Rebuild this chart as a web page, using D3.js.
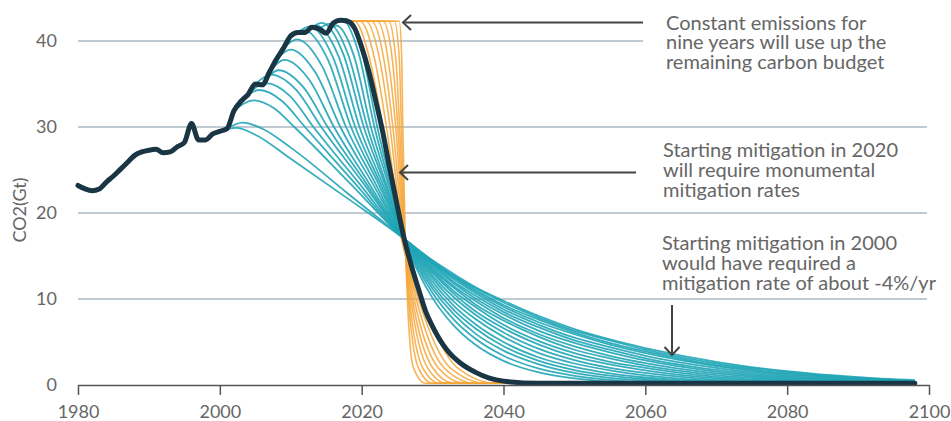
<!DOCTYPE html>
<html>
<head>
<meta charset="utf-8">
<script src="https://cdn.jsdelivr.net/npm/d3@7"></script>
<style>
  body { margin: 0; background: #fff; }
  svg { display: block; }
  text { font-family: Lato, "Open Sans", sans-serif; }
</style>
</head>
<body>
<svg id="chart" width="951" height="421"></svg>
<script>
// historical emissions, Gt CO2
var histYears = [1980,1981,1982,1983,1984,1985,1986,1987,1988,1989,1990,1991,1992,1993,1994,1995,1996,1997,1998,1999,
                 2000,2001,2002,2003,2004,2005,2006,2007,2008,2009,2010,2011,2012,2013,2014,2015,2016,2017,2018];
var histCO2 = [23.2,22.8,22.6,22.8,23.6,24.3,25.1,25.9,26.7,27.1,27.3,27.4,27.0,27.1,27.7,28.2,30.4,28.5,28.5,29.2,
               29.5,29.8,31.9,33.0,33.8,35.0,34.9,36.4,37.9,39.2,40.6,41.0,41.0,41.6,41.4,40.9,42.1,42.4,42.3];

// mitigation starting now (thick line continues)
var nowYears = [2019,2020,2021,2022,2023,2024,2025,2026,2027,2028,2029,2030,2032,2034,2036,2038,2040,2045,2050,2098];
var nowCO2 = [41.5,39.3,36.5,33.0,29.3,25.0,20.9,17.0,13.9,11.2,8.6,6.8,4.1,2.5,1.5,0.8,0.45,0.2,0.2,0.2];

// mitigation curves that would have started in earlier years
var tealStarts = [2000,2001,2002,2003,2004,2005,2006,2007,2008,2009,2010,2011,2012,2013,2014,2015,2016,2017];
var tealPre = [
  [[2000,29.5],[2002.3,29.9],[2005,29.1],[2010,26.3],[2018,21.7]],
  [[2001,29.8],[2003.2,30.5],[2006,29.8],[2010,27.6],[2018,22.3]],
  [[2002,31.9],[2004.8,33.1],[2007.6,32.2],[2010.5,30.0],[2018.3,23.5]],
  [[2003,33.0],[2005.6,34.3],[2008.8,33.0],[2012,30.0],[2019,23.5]],
  [[2004,33.8],[2006.5,35.1],[2009.9,33.6],[2013.2,30.0],[2019.6,23.5]],
  [[2005,35.0],[2007.2,36.1],[2010.8,34.3],[2014.3,30.0],[2020.2,23.5]],
  [[2006,34.9],[2008.3,36.6],[2011.8,34.6],[2015.2,30.0],[2020.6,23.5]],
  [[2007,36.4],[2009.1,37.8],[2012.6,35.5],[2016.1,30.0],[2021,23.5]],
  [[2008,37.9],[2010,39.0],[2013.5,36.3],[2017,30.0],[2021.5,23.5]],
  [[2009,39.2],[2010.9,40.2],[2014.4,37.1],[2017.8,30.0],[2021.9,23.5]],
  [[2010,40.6],[2011.8,41.3],[2015.2,37.9],[2018.5,30.0],[2022.3,23.5]],
  [[2011,41.0],[2012.7,41.7],[2015.9,38.2],[2019.1,30.0],[2022.6,23.5]],
  [[2012,41.0],[2013.6,41.8],[2016.7,38.3],[2019.7,30.0],[2022.9,23.5]],
  [[2013,41.6],[2014.4,42.1],[2017.4,38.5],[2020.3,30.0],[2023.2,23.5]],
  [[2014,41.4],[2015.4,42.0],[2018.1,38.4],[2020.8,30.0],[2023.4,23.5]],
  [[2015,40.9],[2016.4,41.8],[2018.9,38.3],[2021.3,30.0],[2023.7,23.5]],
  [[2016,42.1],[2017.1,42.6],[2019.5,38.8],[2021.8,30.0],[2023.9,23.5]],
  [[2017,42.4],[2017.7,42.6],[2020,38.8],[2022.2,30.0],[2024.1,23.5]]
];
var tailYears = [2026,2028,2030,2033,2036,2040,2045,2050,2055,2060,2070,2080,2090,2098];
var tealTail = [
  [17.0,15.7,14.5,12.9,11.4,9.8,8.0,6.5,5.3,4.3,2.7,1.6,0.9,0.55],
  [17.0,15.7,14.4,12.7,11.3,9.6,7.8,6.3,5.2,4.1,2.5,1.5,0.82,0.5],
  [17.0,15.6,14.3,12.6,11.1,9.3,7.6,6.1,4.9,3.9,2.3,1.35,0.74,0.44],
  [17.0,15.6,14.2,12.5,10.9,9.1,7.3,5.9,4.7,3.7,2.2,1.24,0.66,0.39],
  [17.0,15.5,14.1,12.3,10.7,8.8,7.0,5.5,4.4,3.4,2.0,1.1,0.58,0.33],
  [17.0,15.4,14.0,12.0,10.4,8.5,6.7,5.2,4.1,3.1,1.75,0.95,0.49,0.28],
  [17.0,15.3,13.8,11.8,10.1,8.2,6.3,4.9,3.8,2.85,1.55,0.82,0.41,0.22],
  [17.0,15.2,13.6,11.5,9.8,7.8,5.9,4.5,3.4,2.55,1.35,0.69,0.33,0.2],
  [17.0,15.1,13.4,11.3,9.4,7.5,5.6,4.1,3.1,2.25,1.15,0.57,0.26,0.2],
  [17.0,15.0,13.2,10.9,9.1,7.0,5.1,3.7,2.7,2.0,0.95,0.45,0.2,0.2],
  [17.0,14.8,13.0,10.6,8.6,6.6,4.7,3.3,2.4,1.7,0.77,0.35,0.2,0.2],
  [17.0,14.7,12.7,10.2,8.2,6.1,4.2,2.9,2.0,1.4,0.6,0.26,0.2,0.2],
  [17.0,14.5,12.4,9.7,7.7,5.6,3.7,2.5,1.7,1.13,0.46,0.2,0.2,0.2],
  [17.0,14.3,12.0,9.2,7.1,5.0,3.2,2.1,1.35,0.87,0.33,0.2,0.2,0.2],
  [17.0,14.1,11.6,8.7,6.6,4.5,2.8,1.74,1.08,0.67,0.24,0.2,0.2,0.2],
  [17.0,13.8,11.2,8.2,6.0,4.0,2.4,1.4,0.83,0.5,0.2,0.2,0.2,0.2],
  [17.0,13.5,10.7,7.6,5.4,3.4,1.9,1.07,0.6,0.34,0.2,0.2,0.2,0.2],
  [17.0,13.1,10.1,6.9,4.7,2.8,1.46,0.77,0.4,0.21,0.2,0.2,0.2,0.2]
];

// constant emissions for a few years, then mitigation
var orangeCO2 = [42.3,42.3,38,30,17,10,2,0.2,0.2];
var orangeYears = [
  [2018,2019.0,2021.1,2023.0,2025.6,2028.4,2033.5,2039,2050],
  [2018,2019.8,2021.8,2023.5,2025.7,2028.0,2032.5,2037.5,2050],
  [2018,2020.6,2022.5,2024.0,2025.8,2027.7,2031.6,2036,2050],
  [2018,2021.4,2023.1,2024.4,2025.9,2027.4,2030.8,2034.5,2050],
  [2018,2022.2,2023.7,2024.8,2025.95,2027.15,2030.0,2033,2050],
  [2018,2023.0,2024.3,2025.1,2026.0,2026.95,2029.3,2032,2050],
  [2018,2023.8,2024.8,2025.35,2026.05,2026.75,2028.6,2031,2050],
  [2018,2024.6,2025.3,2025.6,2026.1,2026.6,2028.0,2030,2050],
  [2018,2025.3,2025.65,2025.8,2026.15,2026.45,2027.3,2029,2050]
];

var xTicks = [1980,2000,2020,2040,2060,2080,2100];
var yTicks = [0,10,20,30,40];

var noteTop = ["Constant emissions for", "nine years will use up the", "remaining carbon budget"];
var noteMid = ["Starting mitigation in 2020", "will require monumental", "mitigation rates"];
var noteLow = ["Starting mitigation in 2000", "would have required a", "mitigation rate of about -4%/yr"];

var svg = d3.select("#chart");

var x = d3.scaleLinear().domain([1980, 2100]).range([78, 929]);
var y = d3.scaleLinear().domain([0, 40]).range([385, 41]);

var line = d3.line()
    .x(function(d) { return x(d[0]); })
    .y(function(d) { return y(d[1]); })
    .curve(d3.curveMonotoneX);

// gridlines (top one stops before the note)
svg.append("g").selectAll("line")
    .data(yTicks.filter(function(d) { return d > 0; }))
    .enter().append("line")
    .attr("x1", x(1980))
    .attr("x2", function(d) { return d === 40 ? 643 : 927; })
    .attr("y1", function(d) { return y(d); })
    .attr("y2", function(d) { return y(d); })
    .attr("stroke", "#aab8c3")
    .attr("stroke-width", 1.5);

// y axis labels
var yAxis = svg.append("g")
    .attr("transform", "translate(" + x(1980) + ",0)")
    .call(d3.axisLeft(y).tickValues(yTicks).tickSize(0).tickPadding(21));
yAxis.select(".domain").remove();
yAxis.selectAll("text")
    .style("font-family", "Lato")
    .style("font-size", "18px")
    .attr("fill", "#666");

svg.append("text")
    .attr("transform", "translate(19,210) rotate(-90)")
    .attr("text-anchor", "middle")
    .attr("dominant-baseline", "central")
    .attr("fill", "#666")
    .style("font-size", "18px")
    .text("CO2(Gt)");

// orange: constant emissions then cliff
svg.append("g").selectAll("path")
    .data(orangeYears)
    .enter().append("path")
    .attr("d", function(yrs) {
        return line(yrs.map(function(yr, i) { return [yr, orangeCO2[i]]; }));
    })
    .attr("fill", "none")
    .attr("stroke", "#f6a73a")
    .attr("stroke-opacity", 0.85)
    .attr("stroke-width", 1.6);

// teal: mitigation from earlier start years
svg.append("g").selectAll("path")
    .data(tealStarts)
    .enter().append("path")
    .attr("d", function(s, i) {
        var pts = tealPre[i].concat(tailYears.map(function(yr, j) { return [yr, tealTail[i][j]]; }));
        return line(pts);
    })
    .attr("fill", "none")
    .attr("stroke", "#20a5b6")
    .attr("stroke-opacity", 0.9)
    .attr("stroke-width", 1.8);

// thick line: history + mitigation starting now
var black = histYears.map(function(yr, i) { return [yr, histCO2[i]]; })
    .concat(nowYears.map(function(yr, i) { return [yr, nowCO2[i]]; }));
svg.append("path")
    .attr("d", line(black))
    .attr("fill", "none")
    .attr("stroke", "#1a3644")
    .attr("stroke-width", 5)
    .attr("stroke-linejoin", "round")
    .attr("stroke-linecap", "round");

// x axis
var xAxis = svg.append("g")
    .attr("transform", "translate(0," + y(0) + ")")
    .call(d3.axisBottom(x).tickValues(xTicks).tickFormat(d3.format("d"))
        .tickSize(10).tickSizeOuter(0).tickPadding(10));
xAxis.select(".domain").attr("stroke", "#555").attr("stroke-width", 1.5);
xAxis.selectAll(".tick line").attr("stroke", "#555").attr("stroke-width", 1.5);
xAxis.selectAll("text")
    .style("font-family", "Lato")
    .style("font-size", "18px")
    .attr("fill", "#666");

// annotations
function arrow(x1, y1, x2, y2, h) {
    svg.append("line")
        .attr("x1", x1).attr("y1", y1).attr("x2", x2).attr("y2", y2)
        .attr("stroke", "#444").attr("stroke-width", 2);
    svg.append("path")
        .attr("d", h)
        .attr("fill", "none").attr("stroke", "#444").attr("stroke-width", 2);
}
arrow(643, 22.5, 403, 22.5, "M411,15L403,22.5L411,30");
arrow(636, 172.5, 400, 172.5, "M408,165L400,172.5L408,180");
arrow(672, 305, 672, 355, "M664.5,347L672,355L679.5,347");

function note(lines, x0, y0) {
    var t = svg.append("text")
        .attr("fill", "#666")
        .style("font-size", "20px");
    lines.forEach(function(s, i) {
        t.append("tspan").attr("x", x0).attr("y", y0 + i * 19.8).text(s);
    });
}
note(noteTop, 666, 29.5);
note(noteMid, 663, 157);
note(noteLow, 662, 250);
</script>
</body>
</html>
